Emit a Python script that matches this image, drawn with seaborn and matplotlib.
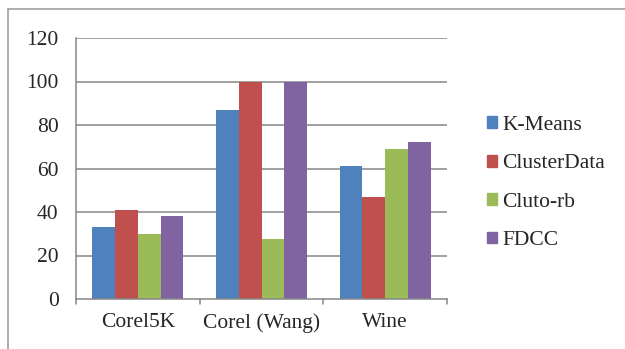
import matplotlib
matplotlib.use("Agg")
import matplotlib.pyplot as plt
from matplotlib.lines import Line2D
import seaborn as sns
import pandas as pd

datasets = ["Corel5K", "Corel (Wang)", "Wine"]
methods = ["K-Means", "ClusterData", "Cluto-rb", "FDCC"]
kmeans = [33, 86.7, 61]
clusterdata = [41, 100, 47]
cluto_rb = [30, 27.7, 69]
fdcc = [38, 100, 72]
y_ticks = [0, 20, 40, 60, 80, 100, 120]

colors = ["#4F81BD", "#C0504D", "#9BBB59", "#8064A2"]

rows = []
for m, vals in zip(methods, [kmeans, clusterdata, cluto_rb, fdcc]):
    for d, v in zip(datasets, vals):
        rows.append({"dataset": d, "method": m, "value": v})
df = pd.DataFrame(rows)

sns.set_style("white")
plt.rcParams["font.family"] = ["Liberation Serif", "DejaVu Serif"]
FS = 15.5

W, H = 625, 349
fig = plt.figure(figsize=(W / 100, H / 100), dpi=100)
ax = fig.add_axes([76 / W, 1 - 299 / H, (447 - 76) / W, (299 - 38) / H])

sns.barplot(data=df, x="dataset", y="value", hue="method", order=datasets,
            hue_order=methods, palette=colors, width=0.735, linewidth=0,
            saturation=1, ax=ax, legend=False)

grid_c = "#868686"
ax.set_ylim(0, 120)
ax.set_xlim(-0.5, 2.5)
ax.set_yticks(y_ticks)
ax.set_yticklabels([str(t) for t in y_ticks], fontsize=FS)
for t in y_ticks[1:]:
    ax.axhline(t, color=grid_c, lw=1.1, zorder=0)
ax.set_axisbelow(True)

# category labels centred, ticks at category boundaries
ax.set_xticks([0, 1, 2])
ax.set_xticklabels(datasets, fontsize=FS)
ax.tick_params(axis="x", length=0, pad=10)
for xb in [-0.5, 0.5, 1.5, 2.5]:
    ax.plot([xb, xb], [0, -0.021], transform=ax.get_xaxis_transform(),
            color=grid_c, lw=1.1, clip_on=False)
ax.tick_params(axis="y", length=4.5, width=1.1, color=grid_c, pad=8)
ax.set_xlabel("")
ax.set_ylabel("")

for s in ["top", "right"]:
    ax.spines[s].set_visible(False)
for s in ["left", "bottom"]:
    ax.spines[s].set_color(grid_c)
    ax.spines[s].set_linewidth(1.1)

# chart frame
fig.add_artist(Line2D([8 / W, 8 / W], [0, 1 - 9 / H], transform=fig.transFigure,
                      color="#A0A0A0", lw=1.2))
fig.add_artist(Line2D([8 / W, 1], [1 - 9 / H, 1 - 9 / H], transform=fig.transFigure,
                      color="#A0A0A0", lw=1.2))

handles = [plt.Rectangle((0, 0), 1, 1, color=c) for c in colors]
fig.legend(handles, methods, loc="upper left",
           bbox_to_anchor=(487 / W, 1 - 116 / H), frameon=False,
           fontsize=FS, handlelength=0.47, handleheight=0.47,
           handletextpad=0.25, labelspacing=0.9, borderaxespad=0,
           borderpad=0)

fig.savefig("out.png", dpi=100, facecolor="white")
